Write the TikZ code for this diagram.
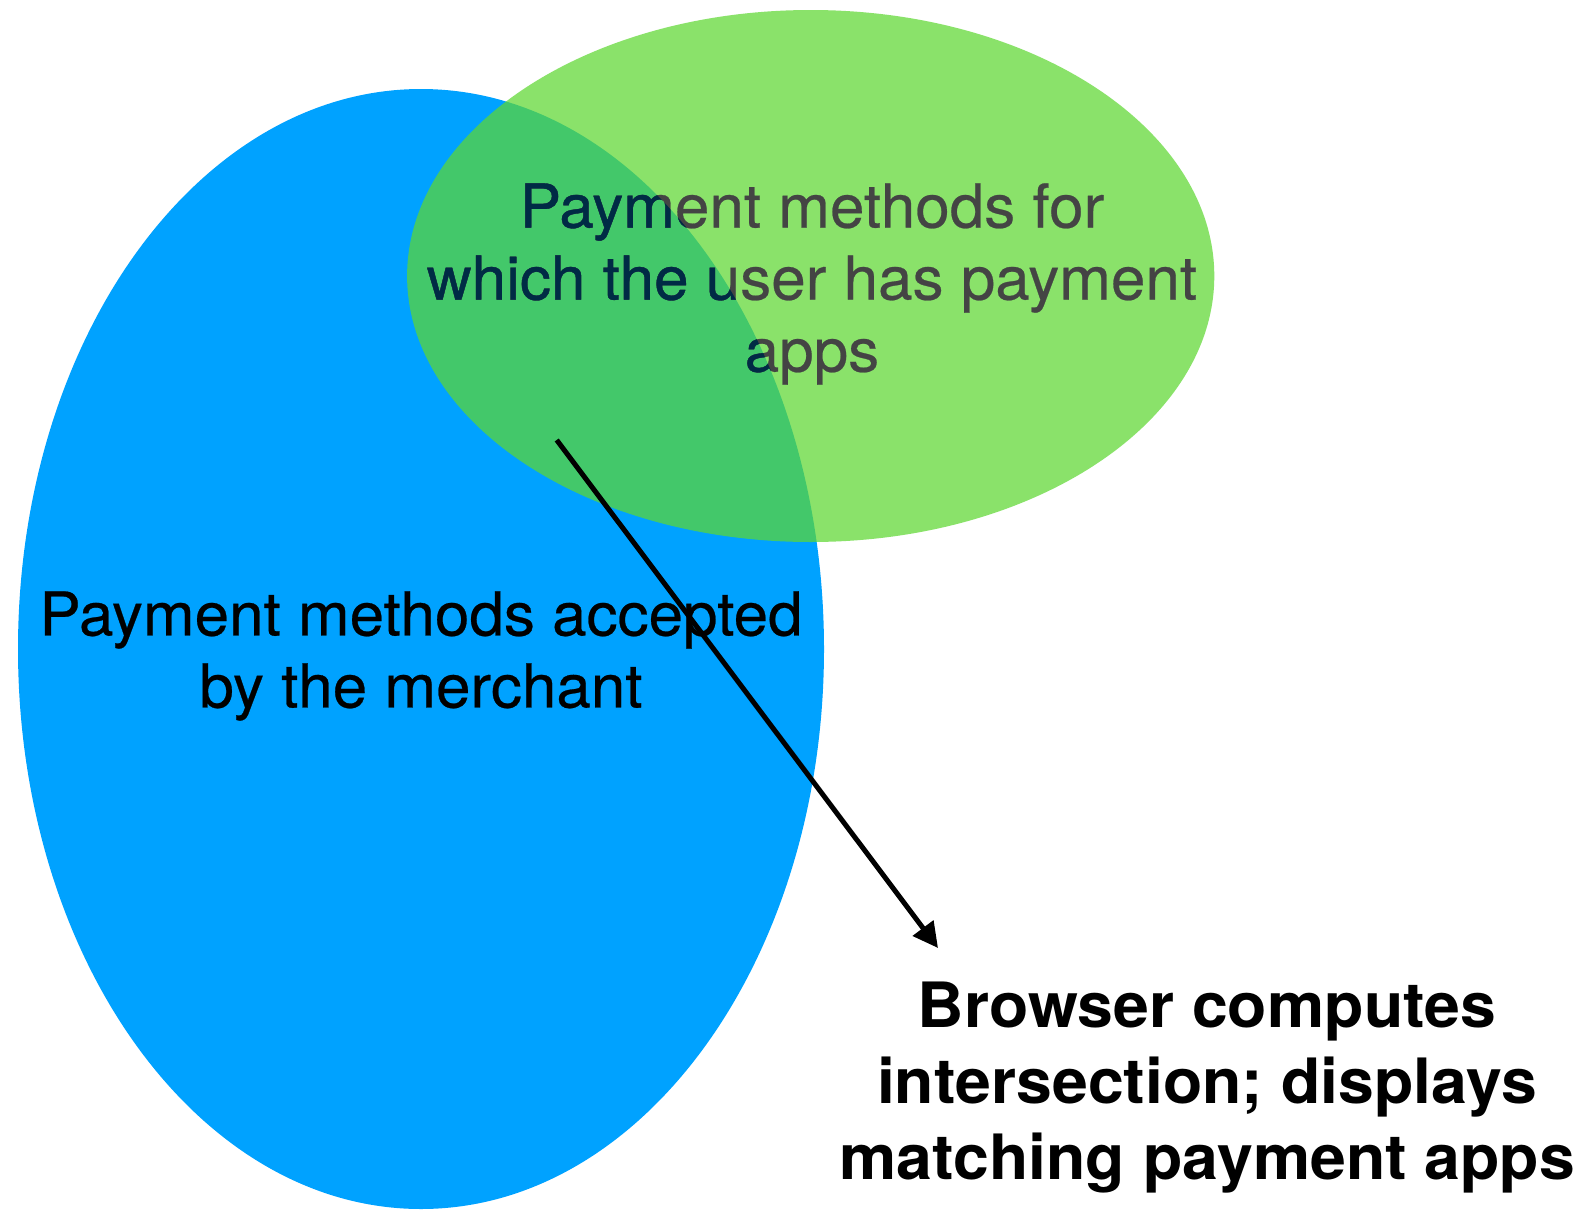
\documentclass[tikz,border=0pt]{standalone}
\usepackage{fontspec}
\setmainfont{TeX Gyre Heros}[FakeStretch=1.03]
\newfontfamily\setlabelfont{TeX Gyre Heros}[FakeStretch=1.025, FakeBold=0.4]
\usetikzlibrary{arrows.meta}
\definecolor{merchblue}{RGB}{0,162,255}
\definecolor{usergreen}{RGB}{94,216,49}
\definecolor{txtgray}{RGB}{68,68,68}
\definecolor{txtnavy}{RGB}{0,43,69}
\tikzset{
  labeltext/.style={align=center, inner sep=0pt, font=\setlabelfont\fontsize{60.5}{72}\selectfont},
  resulttext/.style={align=center, inner sep=0pt, font=\bfseries\fontsize{62.5}{76}\selectfont},
  flow/.style={line width=5pt, -{Triangle[length=25pt,width=25pt]}}
}
\begin{document}
\begin{tikzpicture}[x=1pt,y=-1pt]
\useasboundingbox (0,0) rectangle (1580,1213);
\fill[white] (0,0) rectangle (1580,1213);
% sets
\fill[merchblue] (421,649) ellipse [x radius=403, y radius=560];
\fill[usergreen, fill opacity=0.72] (810.7,276) ellipse [x radius=403.6, y radius=266];
% labels
\node[labeltext, text=txtgray] (usertext) at (812,284) {Payment methods for\\which the user has payment\\apps};
\begin{scope}
  \clip (421,649) ellipse [x radius=403, y radius=560];
  \node[labeltext, text=txtnavy] (usertextin) at (812,284) {Payment methods for\\which the user has payment\\apps};
\end{scope}
\node[labeltext, text=black] (merchtext) at (421,656) {Payment methods accepted\\by the merchant};
\node[resulttext] (result) at (1207,1088) {Browser computes\\intersection; displays\\matching payment apps};
% connector
\coordinate (arrowstart) at (556.7,440);
\coordinate (arrowend) at (938,948);
\draw[flow] (arrowstart) -- (arrowend);
\end{tikzpicture}
\end{document}
